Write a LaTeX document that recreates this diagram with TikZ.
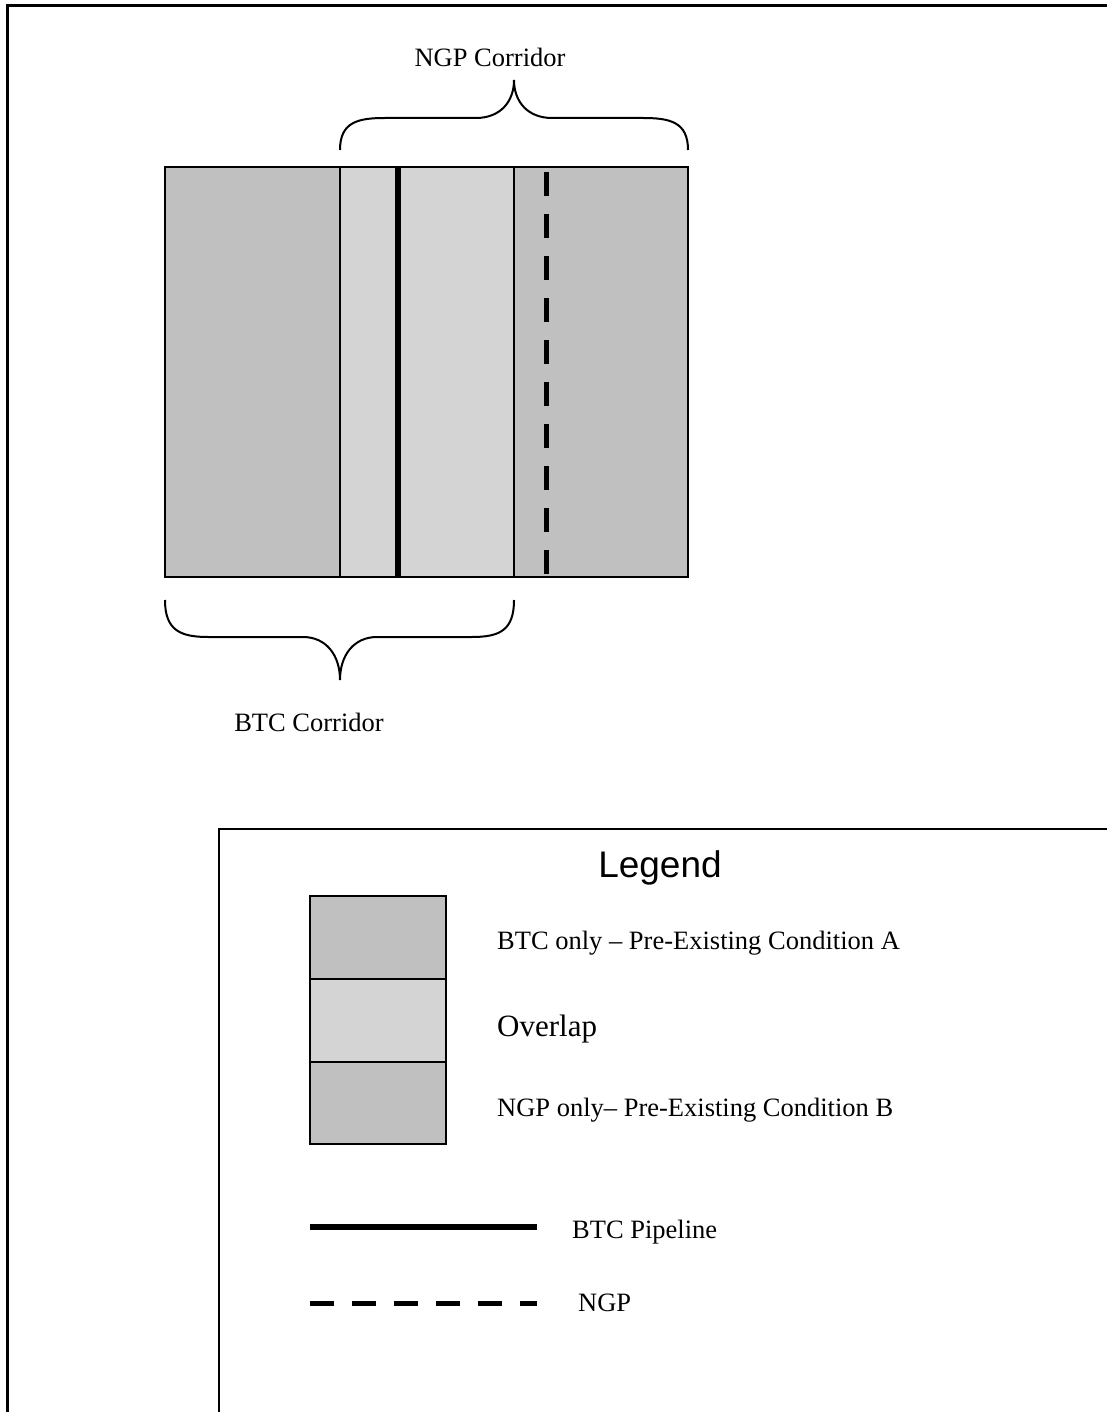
\documentclass[tikz,border=0pt]{standalone}
\usepackage{fontspec}
\setmainfont{Liberation Serif}
\newfontfamily\legendfont{Liberation Sans}
\usepackage{xcolor}
\usepackage{tikz}
\usetikzlibrary{positioning}
\definecolor{btcgray}{RGB}{192,192,192}
\definecolor{overlapgray}{RGB}{212,212,212}
\tikzset{
  frame line/.style={draw=black, line width=3pt, line join=miter},
  box line/.style={draw=black, line width=2pt},
  band/.style={draw=black, line width=1.6pt},
  brace line/.style={draw=black, line width=2pt},
  pipeline/.style={draw=black, line width=5.5pt},
  ngp line/.style={draw=black, line width=5pt, dash pattern=on 24pt off 18pt},
  label text/.style={font=\fontsize{26.5}{31}\selectfont, inner sep=0pt},
  key text/.style={label text, anchor=west}
}

\begin{document}
\begin{tikzpicture}[x=1pt, y=-1pt]
  \useasboundingbox (0,0) rectangle (1107,1412);

  % Frame
  \draw[frame line] (7,1412) -- (7,6) -- (1107,6);

  % Corridors
  \fill[btcgray] (165,167) rectangle (340,577);
  \fill[overlapgray] (340,167) rectangle (514,577);
  \fill[btcgray] (514,167) rectangle (688,577);
  \draw[band] (165,167) rectangle (688,577);
  \draw[band] (340,167) -- (340,577);
  \draw[band] (514,167) -- (514,577);

  % Pipelines
  \draw[pipeline] (398,167) -- (398,577);
  \draw[ngp line] (546,172) -- (546,577);

  % NGP brace
  \draw[brace line] (340,150) .. controls (340,122) and (358,118) .. (385,118)
    -- (476,118) .. controls (500,118) and (514,102) .. (514,80)
    .. controls (514,102) and (528,118) .. (552,118)
    -- (643,118) .. controls (670,118) and (688,122) .. (688,150);
  \node[label text] (ngpcorr) at (490,57) {NGP Corridor};

  % BTC brace
  \draw[brace line] (165,600) .. controls (165,630) and (180,637) .. (208,637)
    -- (303,637) .. controls (326,637) and (340,655) .. (340,680)
    .. controls (340,655) and (354,637) .. (377,637)
    -- (472,637) .. controls (500,637) and (514,630) .. (514,600);
  \node[label text] (btccorr) at (309,722) {BTC Corridor};

  % Legend
  \draw[box line] (219,1412) -- (219,829) -- (1107,829);
  \node[font=\legendfont\fontsize{37}{42}\selectfont, inner sep=0pt] (legtitle) at (660,868) {Legend};

  \fill[btcgray] (310,896) rectangle (446,979);
  \fill[overlapgray] (310,979) rectangle (446,1062);
  \fill[btcgray] (310,1062) rectangle (446,1144);
  \draw[band] (310,896) rectangle (446,1144);
  \draw[band] (310,979) -- (446,979);
  \draw[band] (310,1062) -- (446,1062);

  \node[key text] (keybtc) at (497,943) {BTC only -- Pre-Existing Condition A};
  \node[key text, font=\fontsize{31}{36}\selectfont] (keyover) at (497,1029) {Overlap};
  \node[key text] (keyngp) at (497,1110) {NGP only-- Pre-Existing Condition B};

  \draw[pipeline, line width=6pt] (310,1227) -- (537,1227);
  \node[key text] (keypipe) at (572,1232) {BTC Pipeline};

  \draw[ngp line] (310,1303) -- (537,1303);
  \node[key text] (keyngpline) at (578,1303) {NGP};
\end{tikzpicture}
\end{document}
